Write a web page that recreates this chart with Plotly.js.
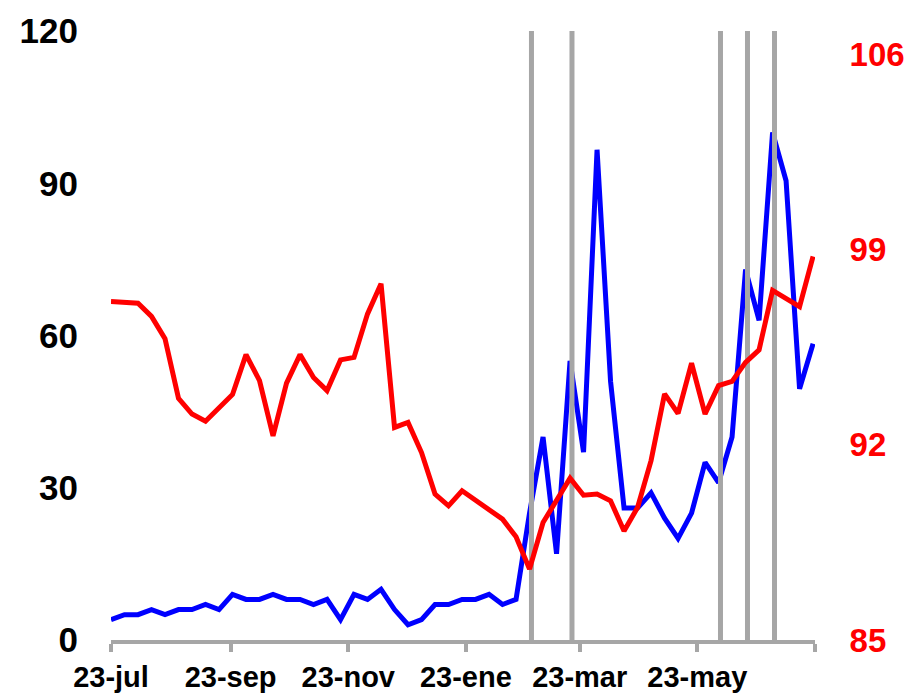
<!DOCTYPE html>
<html>
<head>
<meta charset="utf-8">
<script src="https://cdn.plot.ly/plotly-3.0.1.min.js"></script>
<style>
html,body{margin:0;padding:0;background:#fff;}
#chart{width:913px;height:696px;}
</style>
</head>
<body>
<div id="chart"></div>
<script>
// Weekly observations starting 2022-07-23
const startDate = '2022-07-23';
const blueValues = [4,5,5,6,5,6,6,7,6,9,8,8,9,8,8,7,8,4,9,8,10,6,3,4,7,7,8,8,9,7,8,
  25,40,17,55,37,96.6,51,26,26,29,24,20,25,35,31,40,73,63,100,90.5,49.5,58.4];
const redValues = [97.13,97.1,97.07,96.6,95.8,93.66,93.1,92.84,93.3,93.8,95.23,94.3,92.32,94.21,95.23,94.41,93.94,95.04,95.13,96.69,97.77,
  92.62,92.8,91.72,90.23,89.81,90.35,90.01,89.63,89.33,88.7,87.54,89.21,90.05,90.8,90.19,90.23,89.99,88.91,89.75,91.43,93.82,93.12,94.92,93.1,94.12,94.27,94.95,95.4,97.53,97.25,96.95,98.75];
const eventDates = ['2023-02-26','2023-03-19','2023-06-04','2023-06-18','2023-07-02'];
const xTickVals = ['2022-07-23','2022-09-23','2022-11-23','2023-01-23','2023-03-23','2023-05-23','2023-07-23'];
const xTickText = ['23-jul','23-sep','23-nov','23-ene','23-mar','23-may',''];
const leftTicks = [0,30,60,90,120];
const rightTicks = [85,92,99,106];

const leftRange = [0,120];
const rightRange = [85,106.83];

// build weekly dates
const dates = [];
{
  const d0 = new Date(startDate + 'T00:00:00Z');
  for (let i = 0; i < blueValues.length; i++) {
    const d = new Date(d0.getTime() + i*7*86400000);
    dates.push(d.toISOString().slice(0,10));
  }
}

// vertical event lines from axis bottom to top
const evX = [], evY = [];
eventDates.forEach(d => { evX.push(d, d, null); evY.push(leftRange[0], leftRange[1], null); });

const blueTrace = {x: dates, y: blueValues, type: 'scatter', mode: 'lines', yaxis: 'y',
  line: {color: '#0000ff', width: 5}, hoverinfo: 'skip'};
const eventTrace = {x: evX, y: evY, type: 'scatter', mode: 'lines', yaxis: 'y',
  line: {color: '#a6a6a6', width: 5}, hoverinfo: 'skip', connectgaps: false};
const redTrace = {x: dates, y: redValues, type: 'scatter', mode: 'lines', yaxis: 'y2',
  line: {color: '#ff0000', width: 5}, hoverinfo: 'skip'};

const fam = 'Liberation Sans, Arial, sans-serif';
const layout = {
  width: 913, height: 696,
  margin: {l: 111, r: 98, t: 31, b: 56, pad: 0},
  paper_bgcolor: '#ffffff', plot_bgcolor: '#ffffff',
  showlegend: false,
  xaxis: {
    type: 'date', range: ['2022-07-23','2023-07-23'],
    tickmode: 'array', tickvals: xTickVals, ticktext: xTickText,
    showgrid: false, zeroline: false,
    showline: true, linecolor: '#a6a6a6', linewidth: 4,
    ticks: 'outside', ticklen: 8, tickwidth: 4, tickcolor: '#a6a6a6',
    tickfont: {family: fam, size: 29, color: '#000000', weight: 700},
    fixedrange: true
  },
  yaxis: {
    range: leftRange, tickmode: 'array', tickvals: leftTicks,
    showgrid: false, zeroline: false, showline: false,
    ticks: 'outside', ticklen: 25, tickcolor: 'rgba(0,0,0,0)',
    tickfont: {family: fam, size: 35, color: '#000000', weight: 700},
    fixedrange: true
  },
  yaxis2: {
    range: rightRange, overlaying: 'y', side: 'right',
    tickmode: 'array', tickvals: rightTicks,
    showgrid: false, zeroline: false, showline: false,
    ticks: 'outside', ticklen: 27, tickcolor: 'rgba(0,0,0,0)',
    tickfont: {family: fam, size: 33, color: '#ff0000', weight: 700},
    fixedrange: true
  }
};

Plotly.newPlot('chart', [blueTrace, eventTrace, redTrace], layout, {displayModeBar: false, staticPlot: true});
</script>
</body>
</html>
